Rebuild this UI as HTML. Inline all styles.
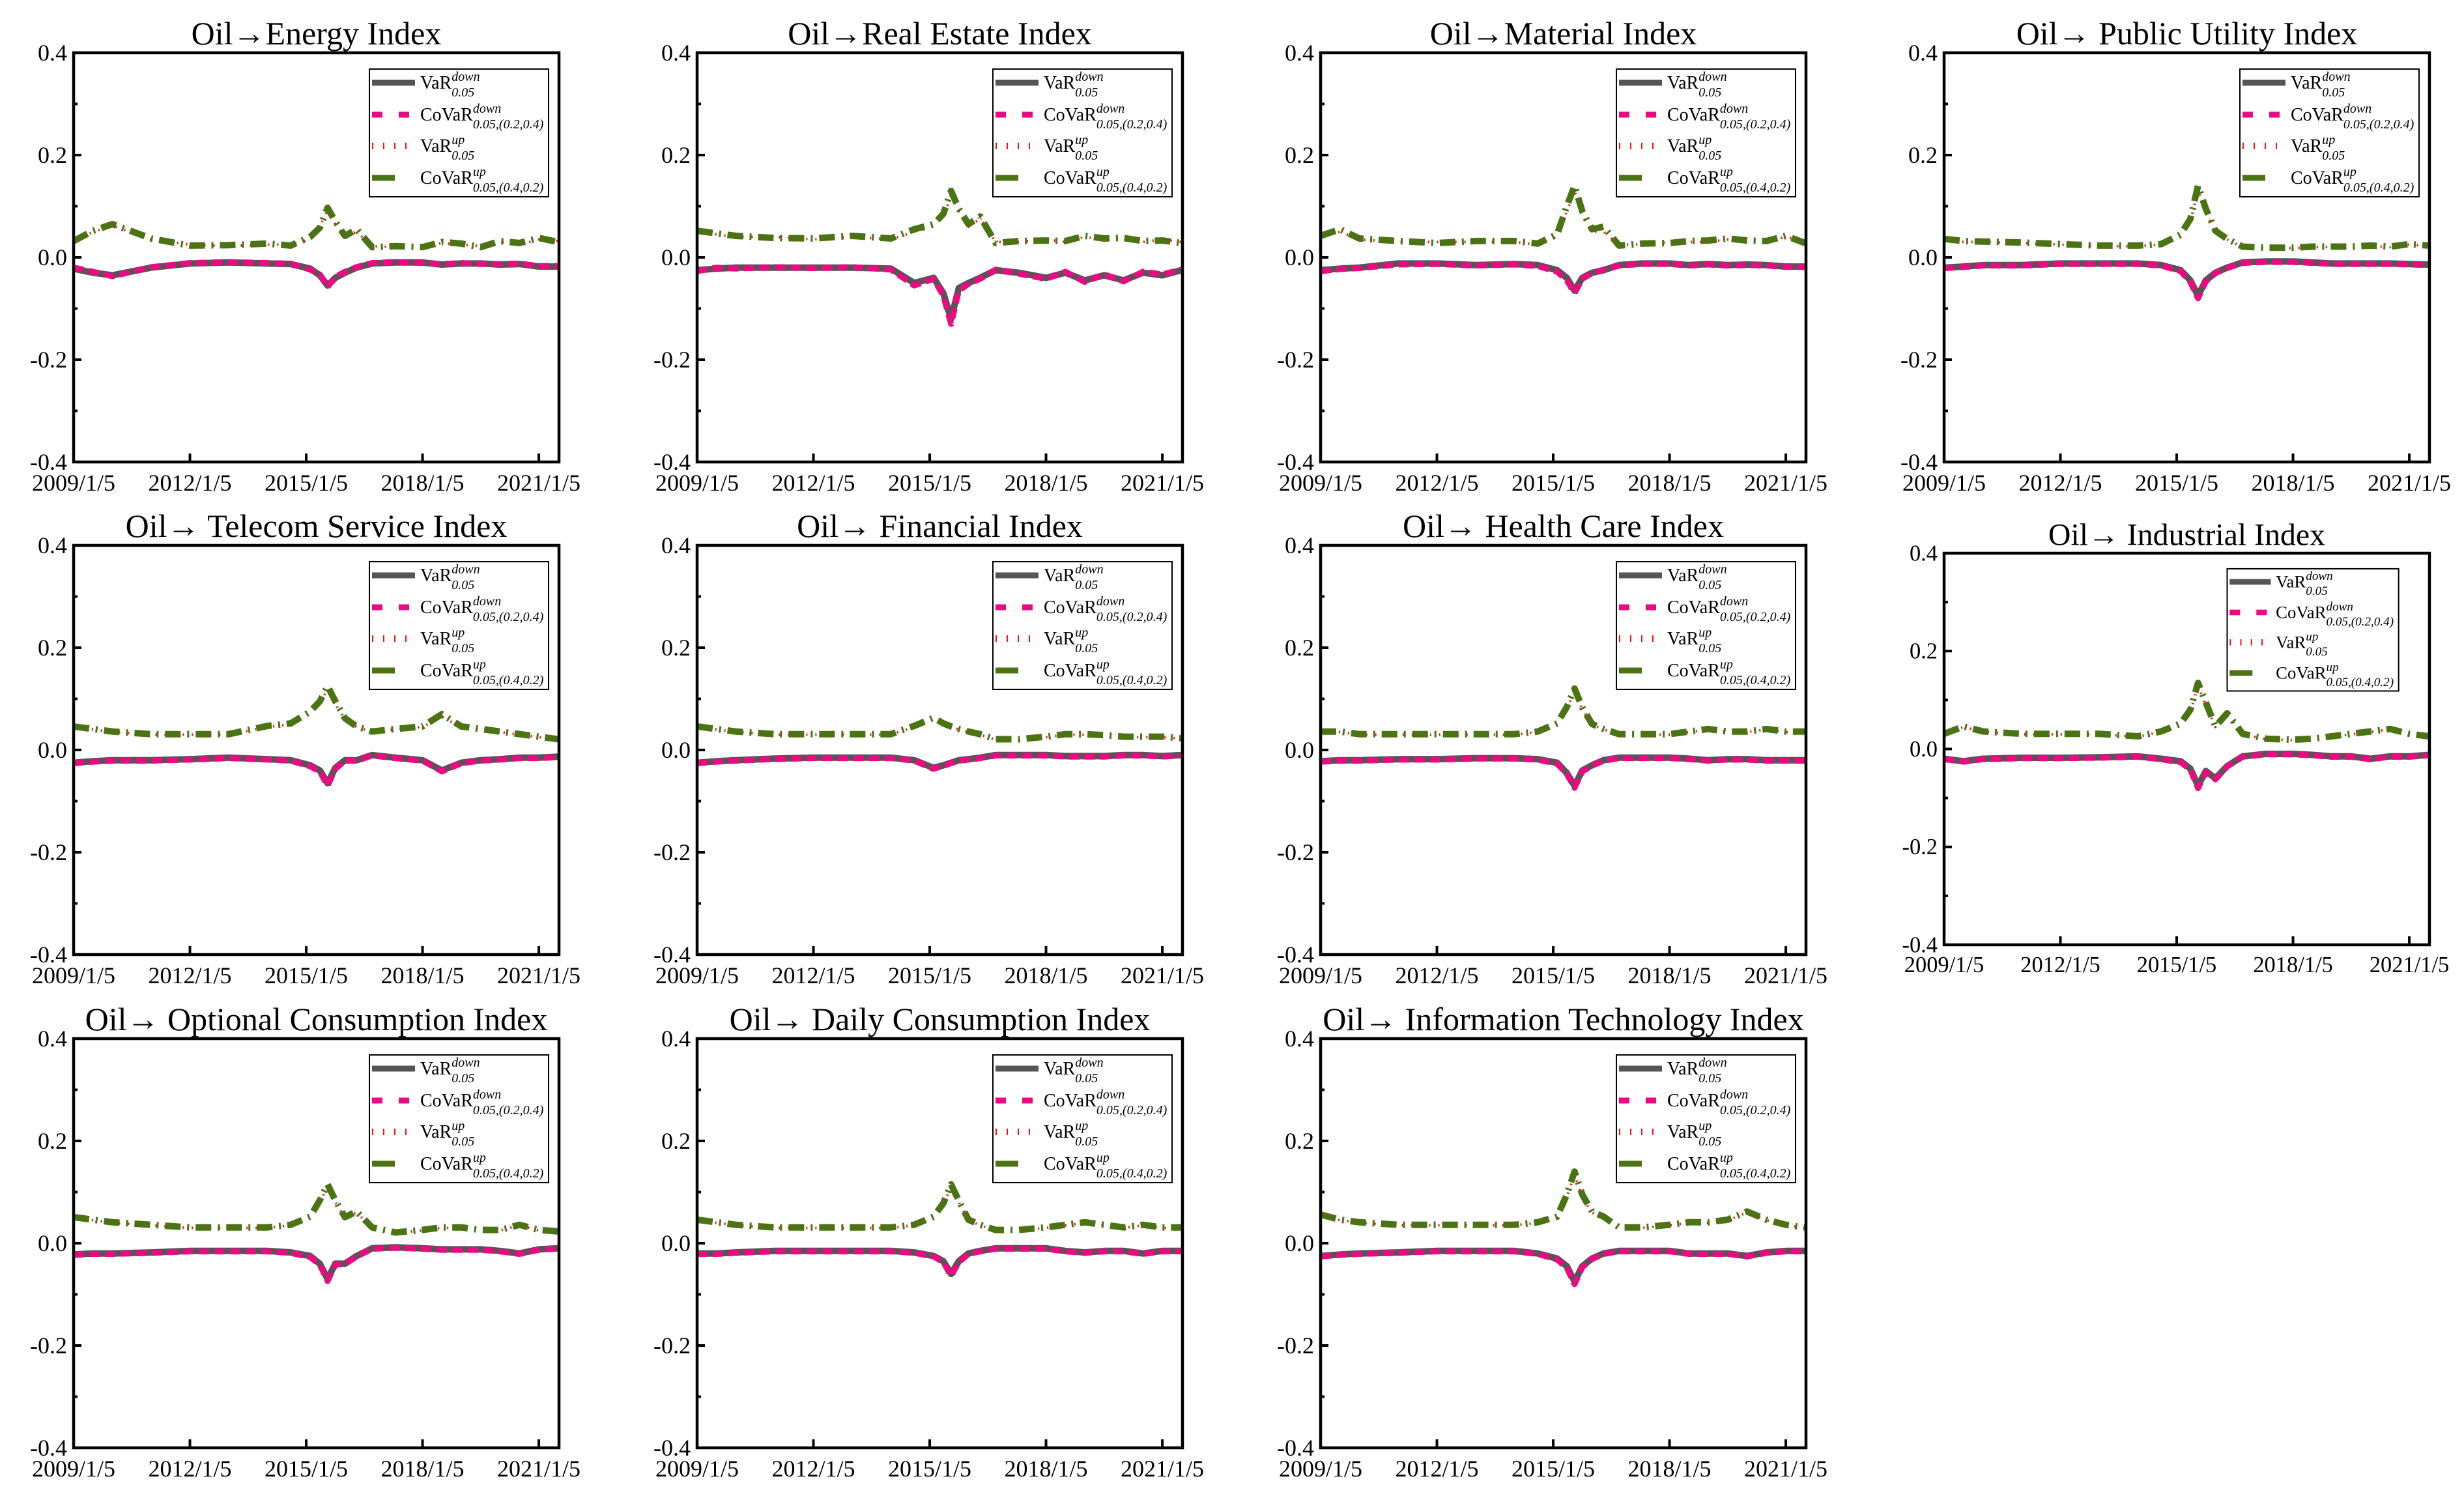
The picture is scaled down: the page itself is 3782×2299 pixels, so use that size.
<!DOCTYPE html>
<html><head><meta charset="utf-8"><style>
html,body{margin:0;padding:0;background:#fff;}
svg{display:block;font-family:"Liberation Serif",serif;}
</style></head><body>
<svg id="fig" width="3782" height="2299" viewBox="0 0 3782 2299" xmlns="http://www.w3.org/2000/svg"></svg>
<script>
const dates = [0,0.5,1,2,3,4,5,5.6,6.1,6.35,6.55,6.75,7.0,7.3,7.7,8.3,9,9.5,10,10.5,11,11.5,12,12.5];
const xTickLabels = ["2009/1/5","2012/1/5","2015/1/5","2018/1/5","2021/1/5"];
const xTickYears = [0,3,6,9,12];
const yTicks = [-0.4,-0.2,0.0,0.2,0.4];
const yTickLabels = ["-0.4","-0.2","0.0","0.2","0.4"];
const titles = ["Oil\u2192Energy Index","Oil\u2192Real Estate Index","Oil\u2192Material Index","Oil\u2192 Public Utility Index","Oil\u2192 Telecom Service Index","Oil\u2192 Financial Index","Oil\u2192 Health Care Index","Oil\u2192 Industrial Index","Oil\u2192 Optional Consumption Index","Oil\u2192 Daily Consumption Index","Oil\u2192 Information Technology Index"];

const energyVarDown=[-0.022,-0.03,-0.035,-0.02,-0.012,-0.01,-0.012,-0.013,-0.022,-0.035,-0.055,-0.04,-0.03,-0.02,-0.012,-0.01,-0.01,-0.014,-0.012,-0.012,-0.014,-0.013,-0.018,-0.018];
const energyCoVarDown=[-0.02,-0.028,-0.037,-0.019,-0.011,-0.009,-0.011,-0.012,-0.024,-0.033,-0.058,-0.038,-0.028,-0.019,-0.011,-0.009,-0.011,-0.013,-0.011,-0.013,-0.013,-0.012,-0.017,-0.017];
const energyVarUp=[0.03,0.05,0.062,0.035,0.025,0.022,0.025,0.025,0.035,0.06,0.092,0.065,0.04,0.05,0.022,0.02,0.022,0.028,0.025,0.022,0.03,0.025,0.035,0.032];
const energyCoVarUp=[0.032,0.052,0.065,0.037,0.023,0.024,0.027,0.023,0.04,0.058,0.097,0.07,0.042,0.055,0.02,0.022,0.02,0.03,0.027,0.02,0.032,0.028,0.038,0.03];

const realVarDown=[-0.025,-0.022,-0.02,-0.02,-0.02,-0.02,-0.022,-0.05,-0.04,-0.07,-0.12,-0.06,-0.05,-0.04,-0.025,-0.03,-0.04,-0.03,-0.045,-0.035,-0.045,-0.03,-0.035,-0.025];
const realCoVarDown=[-0.027,-0.02,-0.022,-0.019,-0.021,-0.019,-0.024,-0.055,-0.042,-0.075,-0.13,-0.065,-0.052,-0.042,-0.024,-0.032,-0.042,-0.028,-0.048,-0.033,-0.047,-0.028,-0.033,-0.024];
const realVarUp=[0.05,0.045,0.04,0.04,0.035,0.04,0.035,0.05,0.06,0.08,0.12,0.09,0.06,0.075,0.03,0.03,0.035,0.03,0.04,0.035,0.04,0.03,0.035,0.03];
const realCoVarUp=[0.052,0.047,0.042,0.038,0.037,0.042,0.037,0.055,0.065,0.085,0.13,0.095,0.065,0.08,0.028,0.032,0.033,0.032,0.042,0.037,0.038,0.032,0.033,0.028];

const matVarDown=[-0.025,-0.022,-0.02,-0.012,-0.012,-0.015,-0.013,-0.015,-0.025,-0.04,-0.065,-0.04,-0.03,-0.025,-0.015,-0.012,-0.012,-0.015,-0.013,-0.015,-0.014,-0.015,-0.018,-0.018];
const matCoVarDown=[-0.027,-0.023,-0.021,-0.014,-0.013,-0.016,-0.014,-0.017,-0.028,-0.045,-0.07,-0.042,-0.031,-0.024,-0.016,-0.013,-0.013,-0.016,-0.014,-0.016,-0.015,-0.016,-0.019,-0.019];
const matVarUp=[0.04,0.05,0.035,0.03,0.03,0.03,0.03,0.025,0.04,0.09,0.13,0.08,0.05,0.05,0.025,0.025,0.03,0.03,0.03,0.035,0.035,0.03,0.04,0.03];
const matCoVarUp=[0.042,0.055,0.037,0.032,0.028,0.032,0.032,0.027,0.045,0.1,0.14,0.09,0.055,0.06,0.023,0.027,0.028,0.032,0.033,0.037,0.033,0.032,0.042,0.028];

const utilVarDown=[-0.02,-0.018,-0.015,-0.015,-0.012,-0.012,-0.012,-0.015,-0.025,-0.045,-0.075,-0.045,-0.03,-0.02,-0.01,-0.008,-0.008,-0.01,-0.012,-0.012,-0.012,-0.012,-0.013,-0.014];
const utilCoVarDown=[-0.021,-0.019,-0.016,-0.016,-0.013,-0.013,-0.013,-0.016,-0.027,-0.048,-0.08,-0.047,-0.031,-0.021,-0.011,-0.009,-0.009,-0.011,-0.013,-0.013,-0.013,-0.013,-0.014,-0.015];
const utilVarUp=[0.035,0.03,0.03,0.028,0.025,0.022,0.022,0.025,0.04,0.07,0.13,0.09,0.05,0.035,0.02,0.018,0.018,0.02,0.02,0.02,0.022,0.02,0.025,0.022];
const utilCoVarUp=[0.036,0.032,0.031,0.029,0.026,0.023,0.023,0.026,0.045,0.075,0.14,0.095,0.052,0.036,0.021,0.019,0.019,0.021,0.021,0.021,0.023,0.021,0.026,0.023];

const telVarDown=[-0.025,-0.022,-0.02,-0.02,-0.018,-0.015,-0.018,-0.02,-0.03,-0.04,-0.065,-0.035,-0.02,-0.02,-0.01,-0.015,-0.02,-0.04,-0.025,-0.02,-0.018,-0.015,-0.015,-0.013];
const telCoVarDown=[-0.026,-0.023,-0.021,-0.021,-0.019,-0.016,-0.019,-0.021,-0.032,-0.042,-0.07,-0.037,-0.021,-0.021,-0.011,-0.016,-0.021,-0.042,-0.026,-0.021,-0.019,-0.016,-0.016,-0.014];
const telVarUp=[0.045,0.04,0.035,0.03,0.03,0.03,0.045,0.05,0.07,0.09,0.12,0.09,0.06,0.045,0.035,0.04,0.045,0.065,0.045,0.04,0.035,0.03,0.025,0.02];
const telCoVarUp=[0.046,0.041,0.036,0.031,0.031,0.031,0.047,0.052,0.075,0.095,0.125,0.095,0.062,0.046,0.036,0.041,0.046,0.07,0.046,0.041,0.036,0.031,0.026,0.021];

const finVarDown=[-0.025,-0.022,-0.02,-0.017,-0.015,-0.015,-0.015,-0.02,-0.035,-0.03,-0.025,-0.02,-0.018,-0.015,-0.01,-0.01,-0.01,-0.012,-0.012,-0.012,-0.01,-0.01,-0.012,-0.01];
const finCoVarDown=[-0.026,-0.023,-0.021,-0.018,-0.016,-0.016,-0.016,-0.021,-0.037,-0.031,-0.026,-0.021,-0.019,-0.016,-0.011,-0.011,-0.011,-0.013,-0.013,-0.013,-0.011,-0.011,-0.013,-0.011];
const finVarUp=[0.045,0.04,0.035,0.03,0.03,0.03,0.03,0.045,0.06,0.05,0.045,0.04,0.035,0.03,0.02,0.02,0.025,0.03,0.03,0.028,0.025,0.025,0.025,0.022];
const finCoVarUp=[0.046,0.041,0.036,0.031,0.031,0.031,0.031,0.047,0.063,0.052,0.046,0.041,0.036,0.031,0.021,0.021,0.026,0.031,0.031,0.029,0.026,0.026,0.026,0.023];

const healthVarDown=[-0.022,-0.02,-0.02,-0.018,-0.018,-0.016,-0.016,-0.018,-0.025,-0.045,-0.07,-0.04,-0.03,-0.02,-0.015,-0.015,-0.015,-0.017,-0.02,-0.018,-0.018,-0.02,-0.02,-0.02];
const healthCoVarDown=[-0.023,-0.021,-0.021,-0.019,-0.019,-0.017,-0.017,-0.019,-0.027,-0.047,-0.074,-0.042,-0.031,-0.021,-0.016,-0.016,-0.016,-0.018,-0.021,-0.019,-0.019,-0.021,-0.021,-0.021];
const healthVarUp=[0.035,0.035,0.03,0.03,0.03,0.03,0.03,0.035,0.05,0.08,0.115,0.08,0.05,0.04,0.03,0.03,0.03,0.035,0.04,0.035,0.035,0.04,0.035,0.035];
const healthCoVarUp=[0.036,0.036,0.031,0.031,0.031,0.031,0.031,0.036,0.052,0.084,0.12,0.083,0.051,0.041,0.031,0.031,0.031,0.036,0.041,0.036,0.036,0.041,0.036,0.036];

const indVarDown=[-0.02,-0.025,-0.02,-0.018,-0.018,-0.017,-0.015,-0.02,-0.025,-0.04,-0.075,-0.045,-0.06,-0.035,-0.015,-0.01,-0.01,-0.012,-0.015,-0.015,-0.02,-0.015,-0.015,-0.012];
const indCoVarDown=[-0.021,-0.026,-0.021,-0.019,-0.019,-0.018,-0.016,-0.021,-0.027,-0.042,-0.08,-0.047,-0.062,-0.036,-0.016,-0.011,-0.011,-0.013,-0.016,-0.016,-0.021,-0.016,-0.016,-0.013];
const indVarUp=[0.03,0.045,0.035,0.03,0.03,0.03,0.025,0.035,0.05,0.075,0.13,0.09,0.045,0.07,0.03,0.02,0.018,0.02,0.025,0.03,0.035,0.04,0.03,0.025];
const indCoVarUp=[0.031,0.046,0.036,0.031,0.031,0.031,0.026,0.036,0.052,0.08,0.135,0.095,0.046,0.073,0.031,0.021,0.019,0.021,0.026,0.031,0.036,0.041,0.031,0.026];

const optVarDown=[-0.022,-0.02,-0.02,-0.018,-0.015,-0.015,-0.015,-0.018,-0.025,-0.04,-0.07,-0.04,-0.04,-0.025,-0.01,-0.008,-0.01,-0.012,-0.012,-0.012,-0.015,-0.02,-0.012,-0.01];
const optCoVarDown=[-0.023,-0.021,-0.021,-0.019,-0.016,-0.016,-0.016,-0.019,-0.027,-0.042,-0.074,-0.042,-0.041,-0.026,-0.011,-0.009,-0.011,-0.013,-0.013,-0.013,-0.016,-0.021,-0.013,-0.011];
const optVarUp=[0.05,0.045,0.04,0.035,0.03,0.03,0.03,0.035,0.05,0.08,0.11,0.08,0.05,0.06,0.03,0.02,0.025,0.03,0.03,0.025,0.025,0.035,0.025,0.022];
const optCoVarUp=[0.051,0.046,0.041,0.036,0.031,0.031,0.031,0.036,0.052,0.084,0.115,0.084,0.051,0.062,0.031,0.021,0.026,0.031,0.031,0.026,0.026,0.036,0.026,0.023];

const dailyVarDown=[-0.02,-0.02,-0.018,-0.015,-0.015,-0.015,-0.015,-0.018,-0.025,-0.035,-0.06,-0.035,-0.02,-0.015,-0.01,-0.01,-0.01,-0.015,-0.018,-0.015,-0.015,-0.02,-0.015,-0.015];
const dailyCoVarDown=[-0.021,-0.021,-0.019,-0.016,-0.016,-0.016,-0.016,-0.019,-0.026,-0.037,-0.064,-0.037,-0.021,-0.016,-0.011,-0.011,-0.011,-0.016,-0.019,-0.016,-0.016,-0.021,-0.016,-0.016];
const dailyVarUp=[0.045,0.04,0.035,0.03,0.03,0.03,0.03,0.035,0.05,0.075,0.11,0.08,0.045,0.035,0.025,0.025,0.03,0.035,0.04,0.035,0.03,0.035,0.03,0.03];
const dailyCoVarUp=[0.046,0.041,0.036,0.031,0.031,0.031,0.031,0.036,0.052,0.078,0.115,0.083,0.046,0.036,0.026,0.026,0.031,0.036,0.041,0.036,0.031,0.036,0.031,0.031];

const itVarDown=[-0.025,-0.022,-0.02,-0.018,-0.015,-0.015,-0.015,-0.02,-0.03,-0.045,-0.075,-0.045,-0.03,-0.02,-0.015,-0.015,-0.015,-0.02,-0.02,-0.02,-0.025,-0.018,-0.015,-0.015];
const itCoVarDown=[-0.026,-0.023,-0.021,-0.019,-0.016,-0.016,-0.016,-0.021,-0.032,-0.048,-0.08,-0.047,-0.031,-0.021,-0.016,-0.016,-0.016,-0.021,-0.021,-0.021,-0.026,-0.019,-0.016,-0.016];
const itVarUp=[0.055,0.045,0.04,0.035,0.035,0.035,0.035,0.04,0.05,0.09,0.135,0.09,0.06,0.05,0.03,0.03,0.035,0.04,0.04,0.045,0.06,0.045,0.035,0.03];
const itCoVarUp=[0.056,0.046,0.041,0.036,0.036,0.036,0.036,0.041,0.052,0.095,0.14,0.095,0.062,0.052,0.031,0.031,0.036,0.041,0.041,0.046,0.062,0.046,0.036,0.031];

const panelSeries = [
 [energyVarDown,energyCoVarDown,energyVarUp,energyCoVarUp],
 [realVarDown,realCoVarDown,realVarUp,realCoVarUp],
 [matVarDown,matCoVarDown,matVarUp,matCoVarUp],
 [utilVarDown,utilCoVarDown,utilVarUp,utilCoVarUp],
 [telVarDown,telCoVarDown,telVarUp,telCoVarUp],
 [finVarDown,finCoVarDown,finVarUp,finCoVarUp],
 [healthVarDown,healthCoVarDown,healthVarUp,healthCoVarUp],
 [indVarDown,indCoVarDown,indVarUp,indCoVarUp],
 [optVarDown,optCoVarDown,optVarUp,optCoVarUp],
 [dailyVarDown,dailyCoVarDown,dailyVarUp,dailyCoVarUp],
 [itVarDown,itCoVarDown,itVarUp,itCoVarUp]
];
const seriesNames = ["var-down","covar-down","var-up","covar-up"];

const NS="http://www.w3.org/2000/svg";
const svg=document.getElementById('fig');
function mk(tag,attrs,parent){const e=document.createElementNS(NS,tag);for(const k in attrs)e.setAttribute(k,attrs[k]);parent.appendChild(e);return e;}

const layout=[
 [113,81,745,628],[1070,81,745,628],[2027,81,745,628],[2984,81,745,628],
 [113,837,745,628],[1070,837,745,628],[2027,837,745,628],[2984,849,745,601],
 [113,1594,745,628],[1070,1594,745,628],[2027,1594,745,628]
];
const styles=[
 {stroke:"#555555",w:10,dash:""},
 {stroke:"#ea0a82",w:9,dash:"16 8"},
 {stroke:"#ff1010",w:4,dash:"2 12"},
 {stroke:"#4b7314",w:10,dash:"24 10 3 10"}
];
const XMAX=12.52;

layout.forEach((L,pi)=>{
 const [x0,y0,w,h]=L; const s=h/628;
 const g=mk('g',{},svg);
 
 
 const xs=v=>x0+v/XMAX*w;
 const ys=v=>y0+(0.4-v)/0.8*h;
 const t=mk('text',{x:x0+w/2,y:y0-13*s,'text-anchor':'middle','font-size':50*s},g);
 t.textContent=titles[pi];
 
 
 [0,1,2,3].forEach(si=>{
  const d=panelSeries[pi][si];
  let p='';
  d.forEach((v,i)=>{p+=(i?'L':'M')+xs(dates[i]).toFixed(1)+','+ys(v).toFixed(1);});
  const st=styles[si];
  const path=mk('path',{d:p,fill:'none',stroke:st.stroke,'stroke-width':st.w,'stroke-linejoin':'round'},g);
  if(st.dash)path.setAttribute('stroke-dasharray',st.dash);
  
  
 });
 const fr=mk('rect',{x:x0,y:y0,width:w,height:h,fill:'none',stroke:'#000','stroke-width':4.5},g);
 
 
 yTicks.forEach((v,i)=>{
  const y=ys(v);
  mk('line',{x1:x0,x2:x0+12,y1:y,y2:y,stroke:'#000','stroke-width':4},g);
  const tl=mk('text',{x:x0-10,y:y+12*s,'text-anchor':'end','font-size':36*s},g);
  tl.textContent=yTickLabels[i];
  
  
 });
 [-0.3,-0.1,0.1,0.3].forEach(v=>{const y=ys(v);mk('line',{x1:x0,x2:x0+6,y1:y,y2:y,stroke:'#000','stroke-width':4},g);});
 xTickYears.forEach((v,i)=>{
  const x=xs(v);
  mk('line',{x1:x,x2:x,y1:y0+h,y2:y0+h-13,stroke:'#000','stroke-width':4},g);
  const tl=mk('text',{x:x,y:y0+h+44*s,'text-anchor':'middle','font-size':36*s},g);
  tl.textContent=xTickLabels[i];
  
  
 });
 const lg=mk('g',{},g);
 
 
 const lx=x0+454*s, ly=y0+25*s;
 mk('rect',{x:lx,y:ly,width:275*s,height:196*s,fill:'#fff',stroke:'#000','stroke-width':2},lg);
 const rows=[48,97,145,194];
 const labels=[["VaR","down","0.05"],["CoVaR","down","0.05,(0.2,0.4)"],["VaR","up","0.05"],["CoVaR","up","0.05,(0.4,0.2)"]];
 const legDash=["","16 25","","35 53 3 40"];
 rows.forEach((r,i)=>{
  const yy=y0+r*s-2*s;
  if(i==2){
   for(let k=0;k<4;k++){mk('line',{x1:x0+459*s+k*17*s,x2:x0+459*s+k*17*s,y1:yy-5*s,y2:yy+5*s,stroke:'#ff1010','stroke-width':2},lg);}
  } else {
   const ln=mk('line',{x1:x0+458*s,x2:x0+524*s,y1:yy,y2:yy,stroke:styles[i].stroke,'stroke-width':9*s},lg);
   if(legDash[i])ln.setAttribute('stroke-dasharray',legDash[i]);
  }
  const tx0=x0+532*s;
  const tx=mk('text',{x:tx0,y:yy+9*s,'font-size':28*s},lg);
  tx.textContent=labels[i][0];
  
  
  let len=labels[i][0].length*17*s;
  try{const m=tx.getComputedTextLength(); if(m>0)len=m;}catch(e){}
  const sup=mk('text',{x:tx0+len,y:yy-3*s,'font-size':20*s,'font-style':'italic'},lg);
  sup.textContent=labels[i][1];
  const sub=mk('text',{x:tx0+len,y:yy+21*s,'font-size':20*s,'font-style':'italic'},lg);
  sub.textContent=labels[i][2];
 });
});
</script>
</body></html>
